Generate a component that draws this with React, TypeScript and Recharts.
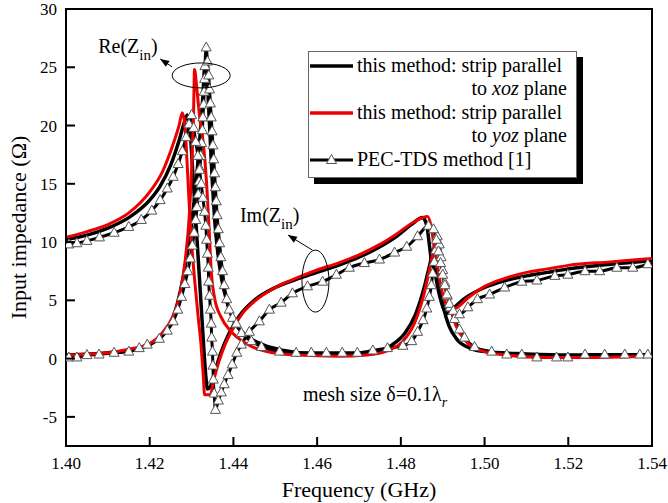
import { LineChart, Line, XAxis, YAxis, ReferenceArea, ReferenceDot } from 'recharts';

// frequency (GHz), impedance (ohm)
const xozRe: [number, number][] = [
  [1.40, 0.3], [1.41, 0.5], [1.415, 0.7], [1.42, 1.2], [1.423, 2.0], [1.425, 3.0], [1.4268, 5.0], [1.428, 7.0],
  [1.4292, 9.5], [1.4303, 12.5], [1.4312, 15.5], [1.432, 19.0], [1.4327, 22.5], [1.4332, 25.2], [1.4337, 24.0],
  [1.4343, 20.0], [1.4349, 15.5], [1.4355, 12.0], [1.4363, 9.0], [1.4372, 6.8], [1.4385, 4.8], [1.44, 3.3],
  [1.443, 2.0], [1.447, 1.2], [1.452, 0.7], [1.46, 0.4], [1.468, 0.4], [1.474, 0.6], [1.478, 1.2], [1.481, 2.2],
  [1.4835, 3.8], [1.4855, 6.0], [1.487, 8.2], [1.4878, 9.4], [1.4885, 8.3], [1.4893, 6.0], [1.4903, 4.2],
  [1.4915, 2.8], [1.4935, 1.6], [1.4965, 0.9], [1.50, 0.6], [1.51, 0.4], [1.52, 0.3], [1.54, 0.3],
];

const xozIm: [number, number][] = [
  [1.40, 10.2], [1.405, 10.6], [1.41, 11.2], [1.415, 12.1], [1.42, 13.6], [1.4225, 14.8], [1.425, 16.6],
  [1.427, 18.7], [1.4283, 20.3], [1.429, 20.9], [1.4296, 19.8], [1.4302, 16.5], [1.4309, 12.5], [1.4316, 8.5],
  [1.4323, 4.5], [1.4329, 1.0], [1.4334, -1.5], [1.4338, -2.6], [1.4345, -2.4], [1.4355, -1.2], [1.437, 0.5],
  [1.439, 2.2], [1.4415, 3.7], [1.445, 5.0], [1.45, 6.1], [1.455, 6.8], [1.46, 7.4], [1.465, 8.0], [1.47, 8.7],
  [1.475, 9.6], [1.479, 10.5], [1.4825, 11.5], [1.4852, 12.1], [1.4862, 11.4], [1.4868, 9.8], [1.4873, 8.4],
  [1.488, 7.6], [1.489, 5.8], [1.4902, 4.3], [1.4912, 3.9], [1.4925, 4.3], [1.495, 5.1], [1.50, 6.1],
  [1.505, 6.7], [1.51, 7.1], [1.515, 7.4], [1.52, 7.7], [1.53, 8.1], [1.54, 8.4],
];

const yozRe: [number, number][] = [
  [1.40, 0.3], [1.41, 0.5], [1.415, 0.8], [1.42, 1.3], [1.423, 2.2], [1.4255, 3.6], [1.4272, 5.5], [1.4285, 8.5],
  [1.4295, 12.5], [1.4301, 17.0], [1.4305, 21.5], [1.4307, 24.8], [1.4313, 23.0], [1.432, 20.5], [1.4328, 18.5],
  [1.4336, 15.0], [1.4342, 11.0], [1.4347, 7.5], [1.4355, 5.2], [1.437, 3.6], [1.4395, 2.3], [1.443, 1.3],
  [1.448, 0.6], [1.455, 0.3], [1.465, 0.2], [1.472, 0.3], [1.477, 0.7], [1.4805, 1.5], [1.4832, 3.0],
  [1.4855, 5.5], [1.4872, 8.2], [1.4885, 10.3], [1.4893, 9.2], [1.4902, 7.0], [1.4915, 4.8], [1.4932, 2.8],
  [1.4955, 1.5], [1.499, 0.7], [1.505, 0.3], [1.515, 0.1], [1.525, 0.1], [1.54, 0.2],
];

const yozIm: [number, number][] = [
  [1.40, 10.4], [1.405, 10.9], [1.41, 11.5], [1.415, 12.5], [1.42, 14.3], [1.423, 16.0], [1.4255, 18.3],
  [1.427, 20.0], [1.4278, 21.1], [1.4284, 20.0], [1.4289, 17.0], [1.4294, 13.5], [1.43, 10.0], [1.4308, 6.5],
  [1.4316, 3.5], [1.4323, 1.0], [1.4328, -1.5], [1.4331, -3.1], [1.4345, -3.1], [1.4352, -2.0], [1.4365, -0.3],
  [1.438, 1.2], [1.4395, 2.3], [1.442, 3.8], [1.445, 4.9], [1.45, 6.1], [1.455, 6.9], [1.46, 7.6], [1.465, 8.2],
  [1.47, 8.9], [1.475, 9.8], [1.479, 10.7], [1.483, 11.7], [1.4864, 12.2], [1.4872, 11.4], [1.488, 9.5],
  [1.4888, 7.8], [1.4897, 6.0], [1.4908, 4.7], [1.492, 4.2], [1.4935, 4.4], [1.496, 5.2], [1.50, 6.2],
  [1.505, 6.9], [1.51, 7.4], [1.515, 7.7], [1.52, 8.0], [1.53, 8.3], [1.54, 8.6],
];

const pecRe: [number, number][] = [
  [1.4007, 0.1], [1.4026, 0.1], [1.405, 0.3], [1.4079, 0.35], [1.4115, 0.5], [1.415, 0.6], [1.4175, 0.9],
  [1.4194, 1.2], [1.4223, 1.7], [1.4242, 2.4], [1.4256, 3.2], [1.4267, 4.2], [1.4276, 5.3], [1.4284, 6.4],
  [1.4291, 7.5], [1.4297, 8.6], [1.4302, 9.7], [1.4306, 10.8], [1.431, 11.9], [1.4313, 13.0], [1.4316, 14.1],
  [1.4318, 15.2], [1.432, 16.3], [1.4322, 17.4], [1.4324, 18.5], [1.4326, 19.6], [1.4327, 20.7], [1.4329, 21.8],
  [1.433, 22.9], [1.4331, 24.0], [1.4332, 25.1], [1.4335, 26.7], [1.4338, 25.5], [1.4341, 24.3], [1.4343, 23.1],
  [1.4345, 21.9], [1.4347, 20.7], [1.4349, 19.5], [1.4351, 18.3], [1.4353, 17.1], [1.4355, 15.9], [1.4357, 14.7],
  [1.4359, 13.5], [1.4361, 12.3], [1.4364, 11.1], [1.4367, 9.9], [1.437, 8.7], [1.4374, 7.5], [1.4378, 6.3],
  [1.4384, 5.1], [1.439, 4.2], [1.4398, 3.5], [1.4407, 3.0], [1.4419, 2.2], [1.4443, 1.5], [1.4467, 1.0],
  [1.451, 0.6], [1.455, 0.5], [1.4586, 0.5], [1.4622, 0.5], [1.466, 0.5], [1.4696, 0.5], [1.4733, 0.7],
  [1.4768, 0.9], [1.4805, 1.1], [1.4826, 1.5], [1.484, 2.3], [1.4853, 3.3], [1.4862, 4.3], [1.4868, 5.3],
  [1.4873, 6.3], [1.4876, 7.3], [1.488, 8.3], [1.4883, 9.3], [1.4887, 10.5], [1.4892, 9.8], [1.4896, 8.7],
  [1.49, 7.6], [1.4905, 6.5], [1.4911, 5.4], [1.4918, 4.4], [1.4928, 3.4], [1.494, 2.5], [1.4952, 1.8],
  [1.4976, 1.0], [1.5017, 0.6], [1.5053, 0.35], [1.5089, 0.35], [1.5125, 0.1], [1.5172, 0.1], [1.5199, 0.1],
  [1.524, 0.35], [1.5287, 0.35], [1.5335, 0.35], [1.5371, 0.35], [1.539, 0.35],
];

const pecIm: [number, number][] = [
  [1.4007, 9.8], [1.4026, 9.9], [1.405, 10.1], [1.408, 10.4], [1.4115, 10.8], [1.415, 11.3], [1.418, 11.9],
  [1.4205, 12.7], [1.4225, 13.6], [1.4242, 14.6], [1.4256, 15.6], [1.4268, 16.7], [1.4278, 17.8], [1.4287, 19.0],
  [1.4294, 20.1], [1.43, 20.9], [1.4305, 19.8], [1.431, 18.6], [1.4315, 17.4], [1.4319, 16.2], [1.4323, 15.0],
  [1.4327, 13.8], [1.4331, 12.6], [1.4334, 11.4], [1.4336, 10.2], [1.4338, 9.0], [1.434, 7.8], [1.4341, 6.6],
  [1.4343, 5.4], [1.4345, 4.2], [1.4347, 3.0], [1.4348, 1.8], [1.435, 0.6], [1.4351, -0.6], [1.4352, -1.8],
  [1.4354, -3.0], [1.4357, -4.4], [1.4364, -3.6], [1.4371, -2.9], [1.4378, -2.2], [1.4387, -1.4], [1.4397, -0.5],
  [1.4408, 0.5], [1.4419, 1.2], [1.4438, 2.3], [1.4462, 3.2], [1.4486, 4.2], [1.4514, 4.8], [1.4541, 5.6],
  [1.4577, 6.2], [1.4613, 6.6], [1.4646, 7.2], [1.4677, 7.8], [1.4713, 8.2], [1.4749, 8.5], [1.4785, 9.1],
  [1.4814, 9.6], [1.484, 10.5], [1.4866, 11.4], [1.4878, 11.1], [1.4885, 10.2], [1.489, 9.2], [1.4895, 8.2],
  [1.49, 7.2], [1.4905, 6.3], [1.491, 5.5], [1.4916, 4.7], [1.4925, 4.1], [1.494, 3.8], [1.496, 4.4],
  [1.4983, 5.1], [1.5012, 5.5], [1.5048, 6.1], [1.5089, 6.6], [1.5125, 6.7], [1.5168, 7.1], [1.5199, 7.2],
  [1.524, 7.5], [1.5275, 7.5], [1.5316, 7.8], [1.5354, 7.8], [1.539, 8.1],
];

const xTicks = [1.40, 1.42, 1.44, 1.46, 1.48, 1.50, 1.52, 1.54];
const yTicks = [-5, 0, 5, 10, 15, 20, 25, 30];

const FONT = '"Liberation Serif", "Times New Roman", serif';
const toPts = (arr: [number, number][]) => arr.map(([f, v]) => ({ f, v }));

function Triangle(props: any) {
  const { cx, cy, index } = props;
  if (cx == null || cy == null) return <g key={`t${index}`} />;
  return (
    <path
      key={`t${index}`}
      d={`M${cx},${cy - 5.5}L${cx + 5},${cy + 3.5}L${cx - 5},${cy + 3.5}Z`}
      fill="#fff"
      stroke="#555"
      strokeWidth={1}
    />
  );
}

function XTick(props: any) {
  const { x, y, payload } = props;
  return (
    <g>
      <line x1={x} y1={y} x2={x} y2={y - 9} stroke="#000" strokeWidth={2} />
      <text x={x} y={y + 23} textAnchor="middle" fontSize={17} fontFamily={FONT} fill="#000">
        {Number(payload.value).toFixed(2)}
      </text>
    </g>
  );
}

function YTick(props: any) {
  const { x, y, payload } = props;
  return (
    <g>
      <line x1={x} y1={y} x2={x + 9} y2={y} stroke="#000" strokeWidth={2} />
      <text x={x - 9} y={y + 6} textAnchor="end" fontSize={17} fontFamily={FONT} fill="#000">
        {payload.value}
      </text>
    </g>
  );
}

function arrowHead(x1: number, y1: number, x2: number, y2: number) {
  const a = Math.atan2(y2 - y1, x2 - x1);
  const l = 9, w = 3.5;
  const bx = x2 - l * Math.cos(a), by = y2 - l * Math.sin(a);
  const px = -Math.sin(a) * w, py = Math.cos(a) * w;
  return `M${x2},${y2}L${bx + px},${by + py}L${bx - px},${by - py}Z`;
}

function ReMark(props: any) {
  const { cx, cy } = props;
  const sx = cx - 29, sy = cy - 8.5, ex = cx - 41, ey = cy - 16.5;
  return (
    <g>
      <ellipse cx={cx} cy={cy} rx={29} ry={12.5} fill="none" stroke="#000" strokeWidth={1} />
      <line x1={sx} y1={sy} x2={ex} y2={ey} stroke="#000" strokeWidth={1} />
      <path d={arrowHead(sx, sy, ex, ey)} fill="#000" />
      <text x={cx - 103} y={cy - 22.5} fontSize={20} fontFamily={FONT} fill="#000">
        Re(Z<tspan dy={7} fontSize={15}>in</tspan><tspan dy={-7}>)</tspan>
      </text>
    </g>
  );
}

function ImMark(props: any) {
  const { cx, cy } = props;
  const sx = cx - 3, sy = cy - 31, ex = cx - 27.5, ey = cy - 46;
  return (
    <g>
      <ellipse cx={cx} cy={cy} rx={13.5} ry={31} fill="none" stroke="#000" strokeWidth={1} />
      <line x1={sx} y1={sy} x2={ex} y2={ey} stroke="#000" strokeWidth={1} />
      <path d={arrowHead(sx, sy, ex, ey)} fill="#000" />
      <text x={cx - 75.5} y={cy - 59} fontSize={20} fontFamily={FONT} fill="#000">
        Im(Z<tspan dy={7} fontSize={15}>in</tspan><tspan dy={-7}>)</tspan>
      </text>
    </g>
  );
}

function MeshNote(props: any) {
  const { cx, cy } = props;
  return (
    <text x={cx} y={cy} fontSize={20} fontFamily={FONT} fill="#000">
      mesh size δ=0.1λ<tspan dy={6} fontSize={14} fontStyle="italic">r</tspan>
    </text>
  );
}

function LegendBox() {
  const txt = { fontSize: 20, fontFamily: FONT, fill: '#000' } as const;
  return (
    <div
      style={{
        position: 'absolute',
        left: 308,
        top: 51,
        width: 269,
        height: 127,
        boxSizing: 'border-box',
        border: '1px solid #666',
        background: '#fff',
        boxShadow: '6px 6px 0 #000',
      }}
    >
      <svg width={267} height={125} style={{ display: 'block' }}>
        <line x1={1} y1={14} x2={44} y2={14} stroke="#000" strokeWidth={3.5} />
        <text x={48} y={20} {...txt}>this method: strip parallel</text>
        <text x={258} y={43} textAnchor="end" {...txt}>
          to <tspan fontStyle="italic">xoz</tspan> plane
        </text>
        <line x1={1} y1={61} x2={44} y2={61} stroke="#e00" strokeWidth={3.5} />
        <text x={48} y={67} {...txt}>this method: strip parallel</text>
        <text x={258} y={90} textAnchor="end" {...txt}>
          to <tspan fontStyle="italic">yoz</tspan> plane
        </text>
        <line x1={1} y1={108} x2={44} y2={108} stroke="#000" strokeWidth={3} />
        <Triangle cx={22.5} cy={108} index={0} />
        <text x={48} y={114} {...txt}>PEC-TDS method [1]</text>
      </svg>
    </div>
  );
}

export default function App() {
  return (
    <div style={{ position: 'absolute', left: 0, top: 0, width: 668, height: 503, background: '#fff' }}>
      <LineChart width={668} height={503} margin={{ top: 9, right: 16, bottom: 27, left: 6 }}>
        <XAxis
          dataKey="f"
          type="number"
          domain={[1.4, 1.54]}
          ticks={xTicks}
          allowDataOverflow
          height={30}
          tickSize={0}
          tickMargin={0}
          tick={<XTick />}
          tickLine={false}
          axisLine={{ stroke: '#000', strokeWidth: 2 }}
          label={{
            content: (p: any) => {
              const vb = p.viewBox;
              return (
                <text x={vb.x + vb.width / 2} y={vb.y + 51} textAnchor="middle" fontSize={22} fontFamily={FONT} fill="#000">
                  Frequency (GHz)
                </text>
              );
            },
          }}
        />
        <YAxis
          dataKey="v"
          type="number"
          domain={[-7.5, 30]}
          ticks={yTicks}
          allowDataOverflow
          width={60}
          tickSize={0}
          tickMargin={0}
          tick={<YTick />}
          tickLine={false}
          axisLine={{ stroke: '#000', strokeWidth: 2 }}
          label={{
            content: (p: any) => {
              const vb = p.viewBox;
              const cx = vb.x + 12;
              const cy = vb.y + vb.height / 2;
              return (
                <text
                  x={cx}
                  y={cy}
                  transform={`rotate(-90, ${cx}, ${cy})`}
                  textAnchor="middle"
                  dominantBaseline="central"
                  fontSize={22}
                  fontFamily={FONT}
                  fill="#000"
                >
                  Input impedance (Ω)
                </text>
              );
            },
          }}
        />
        <ReferenceArea x1={1.4} x2={1.54} y1={-7.5} y2={30} fill="none" stroke="#000" strokeWidth={2} />

        <Line data={toPts(pecRe)} dataKey="v" type="monotone" stroke="#000" strokeWidth={3} dot={false} isAnimationActive={false} />
        <Line data={toPts(pecIm)} dataKey="v" type="monotone" stroke="#000" strokeWidth={3} dot={false} isAnimationActive={false} />
        <Line data={toPts(xozRe)} dataKey="v" type="monotone" stroke="#000" strokeWidth={3.5} dot={false} isAnimationActive={false} />
        <Line data={toPts(xozIm)} dataKey="v" type="monotone" stroke="#000" strokeWidth={3.5} dot={false} isAnimationActive={false} />
        <Line data={toPts(yozRe)} dataKey="v" type="monotone" stroke="#e00" strokeWidth={3} dot={false} isAnimationActive={false} />
        <Line data={toPts(yozIm)} dataKey="v" type="monotone" stroke="#e00" strokeWidth={3} dot={false} isAnimationActive={false} />
        <Line data={toPts(pecRe)} dataKey="v" stroke="none" dot={(p: any) => <Triangle {...p} />} isAnimationActive={false} />
        <Line data={toPts(pecIm)} dataKey="v" stroke="none" dot={(p: any) => <Triangle {...p} />} isAnimationActive={false} />

        <ReferenceDot x={1.4323} y={24.3} shape={(p: any) => <ReMark {...p} />} />
        <ReferenceDot x={1.4596} y={6.65} shape={(p: any) => <ImMark {...p} />} />
        <ReferenceDot x={1.4566} y={-3.65} shape={(p: any) => <MeshNote {...p} />} />
      </LineChart>
      <LegendBox />
    </div>
  );
}
